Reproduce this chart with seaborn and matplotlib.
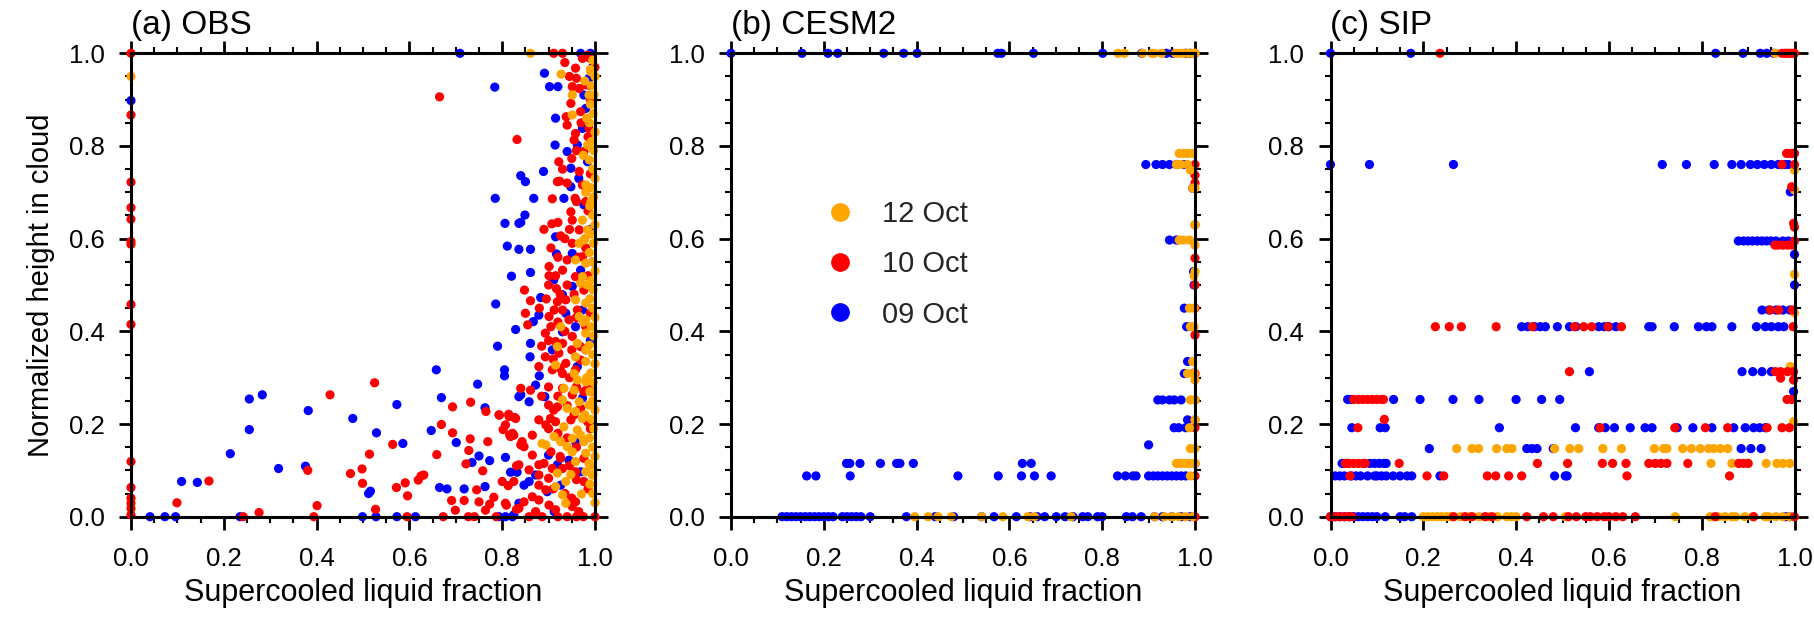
import matplotlib
matplotlib.use("Agg")
import matplotlib.pyplot as plt
import numpy as np
import pandas as pd
import seaborn as sns
from matplotlib.lines import Line2D
from matplotlib.ticker import MultipleLocator

sns.set_theme(style="white")
plt.rcParams["font.family"] = ["Liberation Sans", "DejaVu Sans"]

# ---------------- data ----------------
dates = ["12 Oct", "10 Oct", "09 Oct"]
colors = {"12 Oct": "#FFA500", "10 Oct": "#FF0000", "09 Oct": "#0000FF"}
panel_titles = ["(a) OBS", "(b) CESM2", "(c) SIP"]
xlabel = "Supercooled liquid fraction"
ylabel = "Normalized height in cloud"
tick_values = [0.0, 0.2, 0.4, 0.6, 0.8, 1.0]

# (a) OBS : (liquid fraction, normalized height) pairs
obs_09 = [
    (0.0, 0.898), (0.041, 0.0), (0.073, 0.0), (0.096, 0.0), (0.109, 0.076), (0.143, 0.074),
    (0.214, 0.136), (0.255, 0.254), (0.283, 0.263), (0.255, 0.188), (0.235, 0.0), (0.318, 0.104),
    (0.376, 0.109), (0.382, 0.229), (0.478, 0.212), (0.529, 0.181), (0.512, 0.05), (0.516, 0.055),
    (0.499, 0.0), (0.528, 0.0), (0.573, 0.242), (0.586, 0.158), (0.573, 0.0), (0.613, 0.0),
    (0.658, 0.317), (0.669, 0.257), (0.647, 0.186), (0.665, 0.063), (0.681, 0.06), (0.701, 0.16),
    (0.709, 1.0), (0.718, 0.06), (0.735, 0.117), (0.747, 0.286), (0.75, 0.131), (0.763, 0.235),
    (0.763, 0.065), (0.773, 0.121), (0.784, 0.927), (0.785, 0.687), (0.786, 0.459), (0.79, 0.368),
    (0.805, 0.317), (0.805, 0.304), (0.806, 0.633), (0.811, 0.584), (0.82, 0.519), (0.829, 0.404),
    (0.807, 0.128), (0.818, 0.096), (0.832, 0.096), (0.807, 0.0), (0.825, 0.004), (0.836, 0.633),
    (0.836, 0.577), (0.84, 0.736), (0.836, 0.259),
    (0.891, 0.957), (0.902, 0.928), (0.92, 0.928), (0.915, 0.86), (0.914, 0.802), (0.85, 0.723),
    (0.889, 0.745), (0.868, 0.687), (0.933, 0.687), (0.948, 0.752), (0.948, 0.712), (0.94, 0.788),
    (0.969, 1.0), (0.98, 0.881), (0.973, 0.838), (0.987, 0.946), (0.976, 0.91), (0.962, 0.802),
    (0.984, 0.766), (0.965, 0.73), (0.976, 0.673),
    (0.849, 0.651), (0.84, 0.635), (0.861, 0.577), (0.917, 0.567), (0.861, 0.527), (0.883, 0.473),
    (0.879, 0.435), (0.867, 0.421), (0.861, 0.374), (0.86, 0.345), (0.88, 0.304), (0.915, 0.604),
    (0.911, 0.511), (0.93, 0.479), (0.937, 0.439), (0.93, 0.399), (0.908, 0.36), (0.962, 0.324),
    (0.951, 0.568), (0.969, 0.532), (0.951, 0.497), (0.973, 0.446), (0.958, 0.41),
    (0.84, 0.263), (0.858, 0.248), (0.892, 0.259), (0.872, 0.284), (0.858, 0.076), (0.847, 0.068),
    (0.897, 0.054), (0.872, 0.09), (0.919, 0.112), (0.944, 0.122), (0.836, 0.029), (0.793, 0.0),
    (0.822, 0.0), (0.9, 0.133), (0.926, 0.068), (0.912, 0.011), (0.969, 0.097), (0.958, 0.162),
    (0.973, 0.256), (0.99, 1.0), (0.995, 0.97), (0.99, 0.93), (0.99, 0.62), (0.995, 0.55),
    (0.99, 0.38), (0.995, 0.2),
]
obs_10 = [
    (0.0, 1.0), (0.0, 0.867), (0.0, 0.722), (0.0, 0.667), (0.0, 0.642), (0.0, 0.594), (0.0, 0.588),
    (0.0, 0.458), (0.0, 0.415), (0.0, 0.119), (0.0, 0.063), (0.0, 0.04), (0.0, 0.029), (0.0, 0.018),
    (0.0, 0.004), (0.099, 0.03), (0.168, 0.077), (0.242, 0.0), (0.276, 0.009), (0.381, 0.1),
    (0.401, 0.024), (0.394, 0.0), (0.429, 0.263), (0.473, 0.093), (0.498, 0.103), (0.499, 0.072),
    (0.514, 0.135), (0.527, 0.016), (0.525, 0.289), (0.564, 0.156), (0.572, 0.063), (0.591, 0.073),
    (0.596, 0.045), (0.595, 0.0), (0.619, 0.079), (0.625, 0.088), (0.631, 0.09), (0.659, 0.134),
    (0.665, 0.906), (0.669, 0.199), (0.673, 0.0), (0.691, 0.035), (0.693, 0.237), (0.693, 0.181),
    (0.699, 0.014), (0.718, 0.035), (0.722, 0.114), (0.728, 0.143), (0.731, 0.168), (0.732, 0.247),
    (0.727, 0.0), (0.74, 0.0), (0.745, 0.058), (0.75, 0.032), (0.758, 0.099), (0.765, 0.227),
    (0.769, 0.162), (0.764, 0.014), (0.773, 0.027), (0.782, 0.042), (0.787, 0.0), (0.794, 0.219),
    (0.802, 0.188), (0.809, 0.025), (0.813, 0.067), (0.814, 0.221), (0.816, 0.176), (0.822, 0.18),
    (0.827, 0.214), (0.831, 0.016), (0.831, 0.11), (0.832, 0.814), (0.84, 0.155),
    (0.911, 1.0), (0.93, 1.0), (0.958, 0.968), (0.96, 0.946), (0.951, 0.928), (0.966, 0.924),
    (0.948, 0.892), (0.938, 0.863), (0.94, 0.845), (0.958, 0.827), (0.955, 0.813), (0.922, 0.766),
    (0.95, 0.773), (0.924, 0.724), (0.919, 0.723), (0.908, 0.686), (0.957, 0.687), (0.973, 0.716),
    (0.98, 0.68), (0.973, 0.989), (0.98, 0.932), (0.969, 0.874), (0.976, 0.788), (0.966, 0.745),
    (0.948, 0.658), (0.987, 0.838), (0.984, 0.996),
    (0.907, 0.632), (0.92, 0.635), (0.926, 0.606), (0.901, 0.54), (0.901, 0.52), (0.848, 0.489),
    (0.861, 0.466), (0.85, 0.439), (0.855, 0.414), (0.901, 0.432), (0.917, 0.492), (0.919, 0.464),
    (0.893, 0.396), (0.885, 0.368), (0.893, 0.345), (0.879, 0.324), (0.93, 0.309), (0.951, 0.64),
    (0.951, 0.59), (0.94, 0.554), (0.958, 0.518), (0.937, 0.468), (0.93, 0.446), (0.944, 0.425),
    (0.951, 0.389), (0.915, 0.378), (0.922, 0.353), (0.937, 0.331), (0.908, 0.317), (0.969, 0.367),
    (0.966, 0.619), (0.973, 0.561), (0.976, 0.489), (0.962, 0.446), (0.98, 0.41), (0.969, 0.338),
    (0.958, 0.317), (0.93, 0.532), (0.912, 0.446), (0.93, 0.374),
    (0.84, 0.277), (0.861, 0.273), (0.9, 0.241), (0.911, 0.23), (0.919, 0.237), (0.904, 0.212),
    (0.879, 0.209), (0.894, 0.198), (0.793, 0.22), (0.815, 0.216), (0.829, 0.212), (0.807, 0.198),
    (0.818, 0.173), (0.825, 0.176), (0.843, 0.162), (0.865, 0.176), (0.847, 0.151), (0.865, 0.133),
    (0.836, 0.112), (0.879, 0.112), (0.89, 0.115), (0.908, 0.104), (0.93, 0.104), (0.858, 0.101),
    (0.879, 0.09), (0.9, 0.083), (0.8, 0.076), (0.825, 0.076), (0.879, 0.068), (0.894, 0.058),
    (0.865, 0.043), (0.879, 0.036), (0.847, 0.032), (0.807, 0.029), (0.901, 0.025), (0.836, 0.018),
    (0.872, 0.011), (0.915, 0.015), (0.958, 0.032), (0.976, 0.076), (0.948, 0.209), (0.969, 0.234),
    (0.984, 0.205), (0.991, 0.27), (0.951, 0.263), (0.976, 0.27), (0.93, 0.277), (0.915, 0.205),
    (0.976, 0.126), (0.951, 0.022), (0.965, 0.011), (0.886, 0.0), (0.858, 0.0), (0.926, 0.126),
    (0.958, 0.097),
    (0.988, 0.99), (0.99, 0.9), (0.985, 0.82), (0.99, 0.74), (0.985, 0.66), (1.0, 0.97),
    (0.98, 0.58), (0.985, 0.52), (0.99, 0.44), (0.98, 0.36), (0.985, 0.28), (0.99, 0.19),
    (0.985, 0.06), (0.975, 0.0), (0.96, 0.0), (0.94, 0.0), (0.92, 0.0), (1.0, 0.0),
    (0.89, 0.62), (0.905, 0.58), (0.92, 0.56), (0.935, 0.6), (0.945, 0.62), (0.9, 0.5),
    (0.915, 0.52), (0.94, 0.5), (0.955, 0.48), (0.925, 0.48), (0.905, 0.41), (0.92, 0.42),
    (0.935, 0.4), (0.95, 0.36), (0.96, 0.43), (0.91, 0.34), (0.925, 0.32), (0.945, 0.3),
    (0.96, 0.28), (0.9, 0.28), (0.885, 0.26), (0.92, 0.26), (0.94, 0.24), (0.955, 0.22),
    (0.9, 0.19), (0.92, 0.18), (0.94, 0.17), (0.96, 0.15), (0.905, 0.14), (0.925, 0.13),
    (0.945, 0.11), (0.96, 0.08), (0.91, 0.06), (0.935, 0.05), (0.95, 0.04), (0.9, 0.38),
    (0.88, 0.45), (0.895, 0.47), (0.965, 0.56), (0.96, 0.68), (0.94, 0.72), (0.93, 0.75),
    (0.96, 0.79), (0.97, 0.85), (0.945, 0.95), (0.935, 0.98),
]
obs_12 = [
    (0.0, 0.95), (0.861, 1.0), (0.927, 0.955), (0.951, 0.91), (0.951, 0.867),
    (0.973, 0.64), (0.984, 0.619), (0.976, 0.597), (0.966, 0.59), (0.958, 0.554), (0.98, 0.547),
    (0.973, 0.518), (0.969, 0.504), (0.958, 0.468), (0.98, 0.461), (0.966, 0.432), (0.98, 0.425),
    (0.926, 0.41), (0.98, 0.396), (0.962, 0.374), (0.98, 0.36), (0.919, 0.367), (0.958, 0.345),
    (0.915, 0.327), (0.98, 0.335), (0.955, 0.309),
    (0.991, 0.96), (0.987, 0.91), (0.984, 0.802), (0.98, 0.716), (0.991, 0.68),
    (0.933, 0.277), (0.955, 0.273), (0.962, 0.295), (0.98, 0.291), (0.93, 0.252), (0.966, 0.248),
    (0.987, 0.241), (0.94, 0.234), (0.958, 0.227), (0.973, 0.212), (0.933, 0.194), (0.962, 0.187),
    (0.912, 0.173), (0.886, 0.158), (0.894, 0.155), (0.926, 0.162), (0.94, 0.151), (0.951, 0.14),
    (0.976, 0.162), (0.98, 0.137), (0.987, 0.115), (0.994, 0.09), (0.919, 0.094), (0.948, 0.091),
    (0.937, 0.076), (0.915, 0.065), (0.93, 0.047), (0.937, 0.029), (0.971, 0.049), (0.958, 0.119),
    (0.98, 0.097), (0.951, 0.169), (0.969, 0.176),
    (0.995, 0.985), (0.99, 0.965), (1.0, 0.95), (0.992, 0.93), (0.998, 0.91), (0.99, 0.89),
    (0.996, 0.87), (0.988, 0.85), (1.0, 0.83), (0.993, 0.81), (0.997, 0.79), (0.988, 0.77),
    (0.995, 0.75), (1.0, 0.73), (0.991, 0.71), (0.997, 0.69), (0.989, 0.67), (0.995, 0.65),
    (1.0, 0.63), (0.992, 0.61), (0.997, 0.59), (0.988, 0.57), (0.995, 0.55), (1.0, 0.53),
    (0.991, 0.51), (0.996, 0.49), (0.989, 0.47), (0.995, 0.45), (1.0, 0.43), (0.992, 0.41),
    (0.997, 0.39), (0.988, 0.37), (0.995, 0.35), (1.0, 0.33), (0.991, 0.31), (0.996, 0.29),
    (0.989, 0.27), (0.995, 0.25), (1.0, 0.23), (0.992, 0.21), (0.997, 0.19), (0.988, 0.17),
    (0.995, 0.15), (1.0, 0.13), (0.991, 0.11), (0.996, 0.09), (0.989, 0.07), (0.995, 0.05),
    (1.0, 0.03), (0.978, 0.94), (0.982, 0.86), (0.975, 0.78), (0.98, 0.7), (0.978, 0.6),
    (0.983, 0.5), (0.975, 0.42), (0.982, 0.3), (0.978, 0.22),
]

# (b) CESM2 : {normalized height level: [liquid fractions]}
cesm_09 = {
    1.0: [0.0, 0.153, 0.209, 0.23, 0.329, 0.372, 0.401, 0.575, 0.583, 0.652, 0.801, 0.885, 0.938, 0.952, 0.98, 0.99],
    0.76: [0.894, 0.916, 0.93, 0.945, 0.96, 0.975],
    0.709: [0.995], 0.597: [0.945, 0.96], 0.529: [0.997], 0.5: [0.998],
    0.45: [0.977], 0.41: [0.982], 0.335: [0.984], 0.309: [0.977],
    0.252: [0.92, 0.93, 0.945, 0.955, 0.97], 0.209: [0.984], 0.192: [0.955, 0.965, 0.98],
    0.155: [0.9],
    0.115: [0.249, 0.256, 0.278, 0.322, 0.357, 0.364, 0.393, 0.628, 0.647],
    0.088: [0.163, 0.183, 0.257, 0.489, 0.576, 0.626, 0.654, 0.69, 0.833, 0.85, 0.866, 0.873,
            0.9, 0.91, 0.92, 0.93, 0.94, 0.95, 0.96, 0.97, 0.98],
    0.0: [0.11, 0.12, 0.13, 0.14, 0.15, 0.16, 0.17, 0.18, 0.19, 0.2, 0.21, 0.22, 0.24, 0.25, 0.26,
          0.27, 0.28, 0.3, 0.378, 0.44, 0.48, 0.54, 0.567, 0.615, 0.644, 0.66, 0.676, 0.701, 0.72,
          0.737, 0.758, 0.769, 0.79, 0.8, 0.852, 0.865, 0.884, 0.913, 0.93, 0.95, 0.97, 0.99],
}
cesm_10 = {
    1.0: [1.0], 0.76: [1.0], 0.737: [1.0], 0.72: [1.0], 0.63: [1.0], 0.558: [1.0], 0.5: [1.0],
    0.45: [1.0], 0.392: [1.0], 0.31: [0.998], 0.309: [1.0], 0.252: [1.0], 0.209: [1.0],
    0.192: [1.0], 0.115: [1.0], 0.088: [1.0], 0.0: [1.0],
}
cesm_12 = {
    1.0: [0.834, 0.848, 0.887, 0.907, 0.912, 0.928, 0.958, 0.966, 0.975, 0.985, 0.993, 1.0],
    0.784: [0.966, 0.975, 0.985, 0.995], 0.76: [0.96, 0.97, 0.984], 0.748: [0.99],
    0.709: [0.995, 1.0], 0.63: [1.0], 0.597: [0.966, 0.975, 0.988], 0.586: [1.0],
    0.529: [1.0], 0.52: [0.998], 0.45: [0.988, 0.998], 0.41: [0.99, 0.998], 0.335: [0.995],
    0.309: [0.984, 0.998], 0.295: [1.0], 0.252: [0.99, 1.0], 0.209: [1.0], 0.192: [0.988],
    0.147: [0.99, 1.0], 0.115: [0.96, 0.968, 0.975, 0.983, 0.99, 1.0], 0.088: [0.99],
    0.0: [0.396, 0.425, 0.446, 0.475, 0.54, 0.586, 0.64, 0.654, 0.733, 0.913, 0.934, 0.95,
          0.965, 0.98, 0.995],
}

# (c) SIP : {normalized height level: [liquid fractions]}
sip_09 = {
    1.0: [0.0, 0.173, 0.83, 0.889, 0.926, 0.94, 0.955],
    0.76: [0.0, 0.084, 0.265, 0.715, 0.767, 0.827, 0.865, 0.885, 0.905, 0.92, 0.935, 0.95,
           0.965, 0.98, 0.987],
    0.701: [0.991],
    0.595: [0.879, 0.89, 0.9, 0.91, 0.92, 0.93, 0.94, 0.95, 0.96, 0.975, 0.987],
    0.566: [1.0], 0.5: [1.0],
    0.446: [0.93, 0.945, 0.96, 0.975, 0.99],
    0.41: [0.412, 0.425, 0.44, 0.452, 0.463, 0.489, 0.515, 0.529, 0.578, 0.59, 0.6, 0.615,
           0.686, 0.693, 0.741, 0.793, 0.81, 0.822, 0.865, 0.918, 0.937, 0.95, 0.965, 0.977],
    0.313: [0.558, 0.887, 0.91, 0.93, 0.95], 0.27: [0.998],
    0.253: [0.037, 0.045, 0.136, 0.193, 0.264, 0.32, 0.4, 0.455, 0.494],
    0.192: [0.046, 0.107, 0.118, 0.364, 0.528, 0.578, 0.592, 0.612, 0.646, 0.678, 0.693, 0.747,
            0.781, 0.822, 0.869, 0.894, 0.912, 0.925, 0.937],
    0.147: [0.213, 0.423, 0.434, 0.445, 0.48, 0.885, 0.906, 0.928],
    0.115: [0.025, 0.035, 0.085, 0.095, 0.105, 0.115, 0.12],
    0.088: [0.01, 0.02, 0.03, 0.045, 0.055, 0.065, 0.08, 0.095, 0.1, 0.11, 0.12, 0.135, 0.15,
            0.165, 0.175, 0.236, 0.483, 0.506, 0.51],
    0.0: [0.0, 0.01, 0.02, 0.03, 0.04, 0.05, 0.06, 0.07, 0.08, 0.09, 0.1, 0.118, 0.15, 0.16,
          0.175, 0.98, 0.99],
}
sip_10 = {
    1.0: [0.236, 0.973, 0.98, 0.985, 0.99, 0.995, 1.0],
    0.784: [0.983, 0.99, 0.995, 1.0], 0.76: [0.973, 1.0], 0.712: [0.994],
    0.633: [0.998], 0.625: [1.0], 0.595: [1.0], 0.586: [0.958, 0.965, 0.975, 0.985, 0.994],
    0.446: [0.948, 0.966, 0.995],
    0.41: [0.226, 0.256, 0.282, 0.357, 0.435, 0.526, 0.546, 0.563, 0.598, 0.627, 0.997],
    0.313: [0.515, 0.959, 0.97, 0.985, 0.998], 0.299: [0.97], 0.295: [0.998],
    0.253: [0.05, 0.06, 0.07, 0.08, 0.09, 0.1, 0.11, 0.114, 0.984, 0.994],
    0.21: [0.116],
    0.192: [0.059, 0.581, 0.742, 0.808, 0.856, 0.941, 0.973, 0.989],
    0.115: [0.032, 0.04, 0.05, 0.06, 0.07, 0.075, 0.148, 0.446, 0.511, 0.586, 0.608, 0.637,
            0.686, 0.7, 0.712, 0.725, 0.77, 0.88, 0.89, 0.9],
    0.088: [0.042, 0.208, 0.244, 0.338, 0.356, 0.384, 0.412, 0.639, 0.86],
    0.0: [0.0, 0.01, 0.02, 0.03, 0.04, 0.046, 0.265, 0.29, 0.305, 0.333, 0.348, 0.423, 0.459,
          0.48, 0.513, 0.53, 0.55, 0.56, 0.575, 0.59, 0.6, 0.615, 0.63, 0.657, 0.829, 0.912, 1.0],
}
sip_12 = {
    1.0: [0.958], 0.748: [1.0], 0.705: [1.0], 0.523: [1.0], 0.44: [1.0], 0.324: [0.991],
    0.205: [0.998],
    0.147: [0.272, 0.305, 0.319, 0.358, 0.38, 0.391, 0.483, 0.516, 0.535, 0.587, 0.627, 0.698,
            0.718, 0.725, 0.759, 0.778, 0.797, 0.815, 0.826, 0.84, 0.856],
    0.115: [0.82, 0.865, 0.88, 0.9, 0.939, 0.962, 0.975, 0.99],
    0.0: [0.2, 0.21, 0.22, 0.23, 0.24, 0.25, 0.26, 0.28, 0.3, 0.32, 0.34, 0.36, 0.38, 0.39, 0.4,
          0.506, 0.743, 0.818, 0.835, 0.85, 0.865, 0.873, 0.893, 0.91, 0.937, 0.944, 0.96,
          0.975, 0.99],
}


# ---------------- helpers ----------------
def from_pairs(pairs, date):
    arr = np.array(pairs, dtype=float)
    return pd.DataFrame({"x": arr[:, 0], "y": arr[:, 1], "date": date})


def from_levels(levels, date):
    rows = [(x, y) for y, xs in levels.items() for x in xs]
    return from_pairs(rows, date)


panels = [
    pd.concat([from_pairs(obs_09, "09 Oct"), from_pairs(obs_10, "10 Oct"),
               from_pairs(obs_12, "12 Oct")], ignore_index=True),
    pd.concat([from_levels(cesm_09, "09 Oct"), from_levels(cesm_10, "10 Oct"),
               from_levels(cesm_12, "12 Oct")], ignore_index=True),
    pd.concat([from_levels(sip_09, "09 Oct"), from_levels(sip_12, "12 Oct"),
               from_levels(sip_10, "10 Oct")], ignore_index=True),
]

# ---------------- figure ----------------
fig = plt.figure(figsize=(18.14, 6.2), dpi=100)
lefts = [131 / 1814, 731 / 1814, 1330.5 / 1814]
bottom = (620 - 516.7) / 620
width = 464 / 1814
height = 463.4 / 620

for i, (df, title) in enumerate(zip(panels, panel_titles)):
    ax = fig.add_axes([lefts[i], bottom, width, height])
    sns.scatterplot(data=df, x="x", y="y", hue="date", palette=colors, s=44,
                    linewidth=0, legend=False, ax=ax, clip_on=False)
    ax.set_xlim(0, 1)
    ax.set_ylim(0, 1)
    ax.set_xticks(tick_values)
    ax.set_yticks(tick_values)
    ax.set_xticklabels([f"{v:.1f}" for v in tick_values])
    ax.set_yticklabels([f"{v:.1f}" for v in tick_values])
    ax.xaxis.set_minor_locator(MultipleLocator(0.05))
    ax.yaxis.set_minor_locator(MultipleLocator(0.05))
    ax.tick_params(which="both", direction="out", top=True, right=True,
                   bottom=True, left=True, labeltop=False, labelright=False,
                   color="black", labelcolor="black")
    ax.tick_params(which="major", length=9, width=2.0, labelsize=18.5)
    ax.tick_params(which="minor", length=4.5, width=1.5)
    ax.tick_params(axis="x", which="major", pad=13)
    ax.tick_params(axis="y", which="major", pad=10)
    for sp in ax.spines.values():
        sp.set_linewidth(2.2)
        sp.set_color("black")
    ax.set_xlabel(xlabel, fontsize=22, labelpad=5, color="black")
    if i == 0:
        ax.set_ylabel(ylabel, fontsize=21, labelpad=10, color="black")
    else:
        ax.set_ylabel("")
    ax.text(0.0, 1.0417, title, transform=ax.transAxes, ha="left", va="baseline",
            fontsize=24, color="black")
    if i == 1:
        handles = [Line2D([], [], marker="o", linestyle="none", markersize=13.5,
                          markerfacecolor=colors[d], markeredgewidth=0) for d in dates]
        ax.legend(handles, dates, loc="upper left", bbox_to_anchor=(0.203, 0.684),
                  frameon=False, fontsize=21, handlelength=1.0, handletextpad=0.95,
                  labelspacing=0.77, borderpad=0, borderaxespad=0)

fig.savefig("out.png", dpi=100)
